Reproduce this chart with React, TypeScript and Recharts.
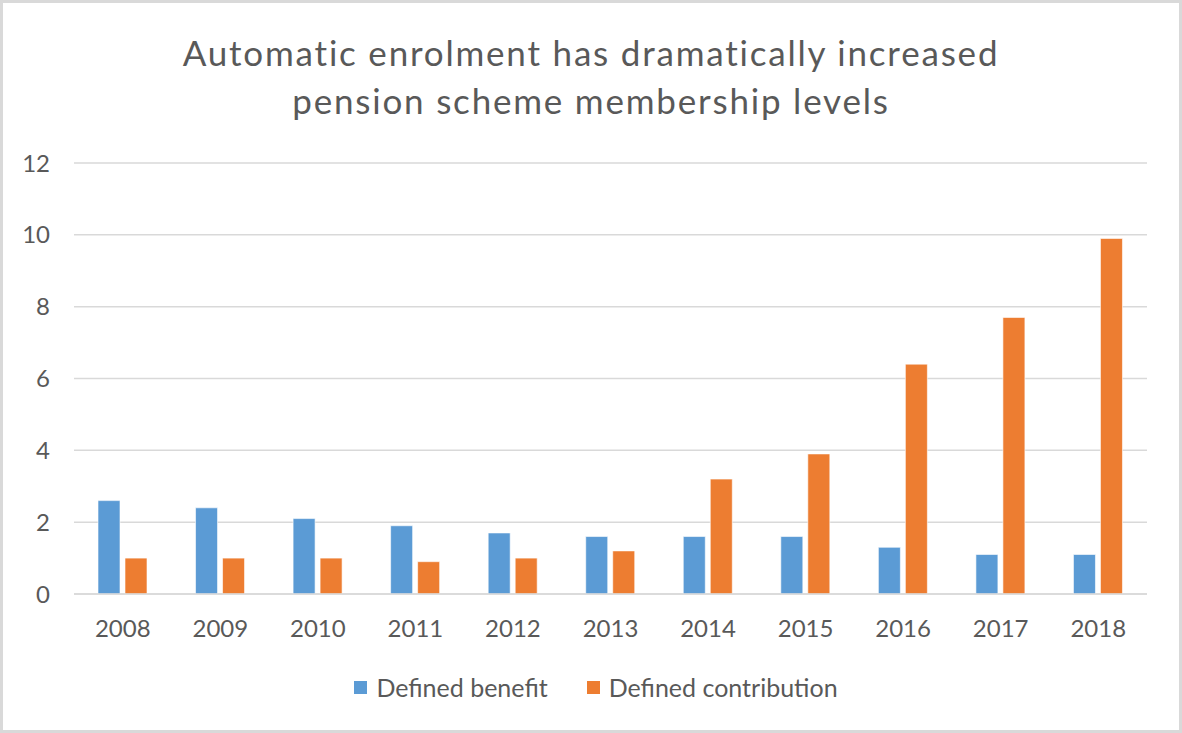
import React from 'react'
import { BarChart, Bar, XAxis, YAxis, CartesianGrid } from 'recharts'

const years = ['2008', '2009', '2010', '2011', '2012', '2013', '2014', '2015', '2016', '2017', '2018']
const definedBenefit = [2.6, 2.4, 2.1, 1.9, 1.7, 1.6, 1.6, 1.6, 1.3, 1.1, 1.1]
const definedContribution = [1.0, 1.0, 1.0, 0.9, 1.0, 1.2, 3.2, 3.9, 6.4, 7.7, 9.9]
const yTicks = [0, 2, 4, 6, 8, 10, 12]

const series = [
  { key: 'db', name: 'Defined benefit', color: '#5b9bd5' },
  { key: 'dc', name: 'Defined contribution', color: '#ed7d31' },
]

const data = years.map((year, i) => ({
  year,
  db: definedBenefit[i],
  dc: definedContribution[i],
}))

const font = 'Lato, "Open Sans", sans-serif'
const textColor = '#595959'

export default function App() {
  return (
    <div
      style={{
        position: 'absolute',
        top: 0,
        left: 0,
        width: 1182,
        height: 733,
        boxSizing: 'border-box',
        border: '3px solid #d9d9d9',
        background: '#fff',
        fontFamily: font,
      }}
    >
      <div
        style={{
          position: 'absolute',
          top: 25,
          left: 0,
          width: 1176,
          textAlign: 'center',
          fontSize: 35,
          letterSpacing: 1.8,
          lineHeight: '48px',
          color: textColor,
        }}
      >
        Automatic enrolment has dramatically increased
        <br />
        pension scheme membership levels
      </div>
      <div style={{ position: 'absolute', top: -3, left: -3 }}>
        <BarChart
          width={1182}
          height={733}
          data={data}
          margin={{ top: 163, right: 35, bottom: 109, left: 0 }}
          barSize={22}
          barGap={5}
        >
          <CartesianGrid vertical={false} stroke="#d9d9d9" strokeWidth={1.5} />
          <XAxis
            dataKey="year"
            height={30}
            axisLine={{ stroke: '#d9d9d9', strokeWidth: 1.5 }}
            tickLine={false}
            tickSize={0}
            tickMargin={26}
            tick={{ fill: textColor, fontSize: 24, fontFamily: font }}
          />
          <YAxis
            width={74}
            domain={[0, 12]}
            ticks={yTicks}
            axisLine={false}
            tickLine={false}
            tickSize={0}
            tickMargin={24}
            tick={{ fill: textColor, fontSize: 24, fontFamily: font }}
          />
          {series.map((s) => (
            <Bar
              key={s.key}
              dataKey={s.key}
              name={s.name}
              fill={s.color}
              stroke="#ffffff"
              strokeWidth={0.6}
              isAnimationActive={false}
            />
          ))}
        </BarChart>
      </div>
      <div
        style={{
          position: 'absolute',
          top: 669,
          left: 5,
          width: 1176,
          display: 'flex',
          justifyContent: 'center',
          gap: 39,
          fontSize: 25,
          color: textColor,
          lineHeight: '30px',
        }}
      >
        {series.map((s) => (
          <div key={s.key} style={{ display: 'flex', alignItems: 'center' }}>
            <span style={{ width: 13, height: 13, background: s.color, marginRight: 9 }} />
            {s.name}
          </div>
        ))}
      </div>
    </div>
  )
}
